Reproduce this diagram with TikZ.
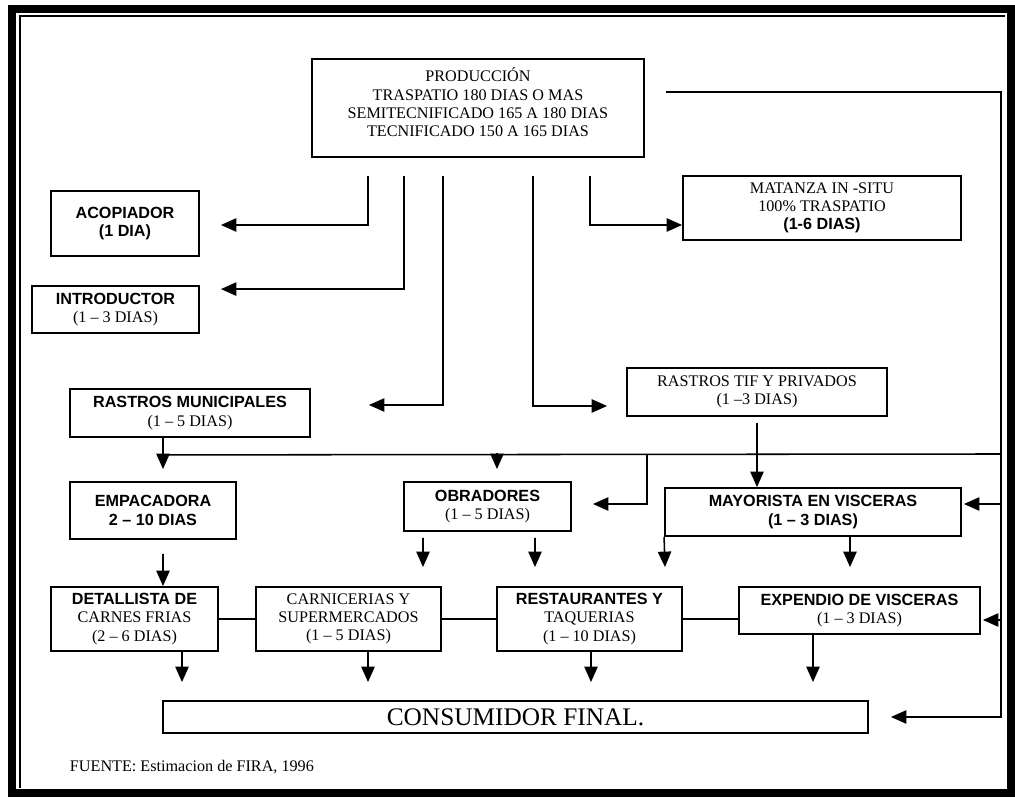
\documentclass[tikz,border=0pt]{standalone}
\usepackage{fontspec}
\setmainfont{Liberation Serif}
\setsansfont{Liberation Sans}
\usetikzlibrary{arrows.meta,calc}
\newcommand{\bsf}[1]{{\sffamily\bfseries #1}}

\begin{document}
\begin{tikzpicture}[x=0.025cm,y=-0.025cm,
  box/.style={draw,line width=1.3pt,align=center,inner sep=0pt,font=\fontsize{11.5}{13}\selectfont},
  sz/.style 2 args={minimum width=#1*0.025cm,minimum height=#2*0.025cm},
  arr/.style={line width=1.1pt,-{Triangle[length=11pt,width=9.5pt]}},
  lnk/.style={line width=1.1pt}]
  \useasboundingbox (0,0) rectangle (1015,799);
  \draw[line width=6pt] (12,9) rectangle (1011,793);
  \draw[line width=1.2pt] (20,788) -- (20,16) -- (1005,16);
  \node[box,sz={332}{98}] (prod) at (478,108) {PRODUCCIÓN\\TRASPATIO 180 DIAS O MAS\\SEMITECNIFICADO 165 A 180 DIAS\\TECNIFICADO 150 A 165 DIAS\\[-5pt]};
  \node[box,sz={148}{65}] (acop) at (125,223.5) {\bsf{ACOPIADOR}\\\bsf{(1 DIA)}};
  \node[box,sz={167}{47}] (intro) at (115.5,309.5) {\bsf{INTRODUCTOR}\\(1 -- 3 DIAS)};
  \node[box,sz={278}{64}] (matanza) at (822,208) {MATANZA IN -SITU\\100\% TRASPATIO\\\bsf{(1-6 DIAS)}};
  \node[box,sz={240}{48}] (rmun) at (190,413) {\bsf{RASTROS MUNICIPALES}\\(1 -- 5 DIAS)};
  \node[box,sz={260}{48}] (rtif) at (757,392) {RASTROS TIF Y PRIVADOS\\(1 --3 DIAS)};
  \node[box,sz={166}{57}] (empac) at (153,510.5) {\bsf{EMPACADORA}\\\bsf{2 -- 10 DIAS}};
  \node[box,sz={167}{49}] (obrad) at (487.5,506.5) {\bsf{OBRADORES}\\(1 -- 5 DIAS)};
  \node[box,sz={296}{48}] (mayor) at (813,512) {\bsf{MAYORISTA EN VISCERAS}\\\bsf{(1 -- 3 DIAS)}};
  \node[box,sz={167}{64}] (detal) at (134.5,619) {\bsf{DETALLISTA DE}\\CARNES FRIAS\\(2 -- 6 DIAS)};
  \node[box,sz={185}{64}] (carni) at (348.5,619) {CARNICERIAS Y\\SUPERMERCADOS\\(1 -- 5 DIAS)};
  \node[box,sz={185}{64}] (resta) at (589.5,619) {\bsf{RESTAURANTES Y}\\TAQUERIAS\\(1 -- 10 DIAS)};
  \node[box,sz={241}{47}] (expend) at (859.5,610.5) {\bsf{EXPENDIO DE VISCERAS}\\(1 -- 3 DIAS)};
  \node[box,sz={705}{32},font=\fontsize{18}{20}\selectfont] (consum) at (515.5,717) {CONSUMIDOR FINAL.};
  \node[anchor=west,font=\fontsize{11.5}{13}\selectfont] (fuente) at (65,767) {FUENTE: Estimacion de FIRA, 1996};
  \coordinate (rt) at (1000,92);
  \coordinate (bus) at (1000,454);
  \draw[arr] ($(prod.south)+(-110,18)$) |- ($(acop.east)+(21,1.5)$);
  \draw[arr] ($(prod.south)+(-74,18)$) |- ($(intro.north east)+(21,4)$);
  \draw[arr] ($(prod.south)+(-35,18)$) |- ($(rmun.east)+(58,-8)$);
  \draw[arr] ($(prod.south)+(55,18)$) |- ($(rtif.west)+(-19,14)$);
  \draw[arr] ($(prod.south)+(112,18)$) |- ($(matanza.west)+(0,17)$);
  \draw[arr] ($(prod.east)+(21,-16)$) -| ($(consum.east)+(132,0)$) -- ($(consum.east)+(22,0)$);
  \draw[arr] ($(rt |- mayor.east)+(0,-8)$) -- ($(mayor.east)+(2,-8)$);
  \draw[arr] ($(rt |- expend.east)+(0,9.5)$) -- ($(expend.east)+(2,9.5)$);
  \draw[lnk] (bus) -- ($(rmun.south)+(-27,17)$);
  \draw[arr] ($(rmun.south)+(-27,0)$) -- ($(empac.north)+(10,-12)$);
  \draw[arr] ($(obrad.north)+(9.5,-28)$) -- ($(obrad.north)+(9.5,-12)$);
  \draw[arr] ($(obrad.east)+(75,-52.5)$) |- ($(obrad.east)+(21,-2.5)$);
  \draw[arr] ($(rtif.south)+(0,6)$) -- (rtif.south |- mayor.north);
  \draw[arr] ($(empac.south)+(10,14)$) -- ($(detal.north)+(28.5,0)$);
  \draw[arr] ($(obrad.south)+(-64.5,6)$) -- ($(carni.north)+(74.5,-19)$);
  \draw[arr] ($(obrad.south)+(47.5,6)$) -- ($(resta.north)+(-54.5,-19)$);
  \draw[arr] (mayor.south west) -- ($(resta.north)+(75.5,-19)$);
  \draw[arr] ($(mayor.south)+(37,0)$) -- ($(expend.north)+(-9.5,-19)$);
  \draw[lnk] (detal) -- (carni);
  \draw[lnk] (carni) -- (resta);
  \draw[lnk] (resta.east) -- (resta.east -| expend.west);
  \draw[arr] ($(detal.south)+(47.5,0)$) -- ($(consum.north)+(-333.5,-18)$);
  \draw[arr] ($(carni.south)+(19.5,0)$) -- ($(consum.north)+(-147.5,-18)$);
  \draw[arr] ($(resta.south)+(1.5,0)$) -- ($(consum.north)+(75.5,-18)$);
  \draw[arr] ($(expend.south)+(-46.5,0)$) -- ($(consum.north)+(297.5,-18)$);
\end{tikzpicture}
\end{document}
